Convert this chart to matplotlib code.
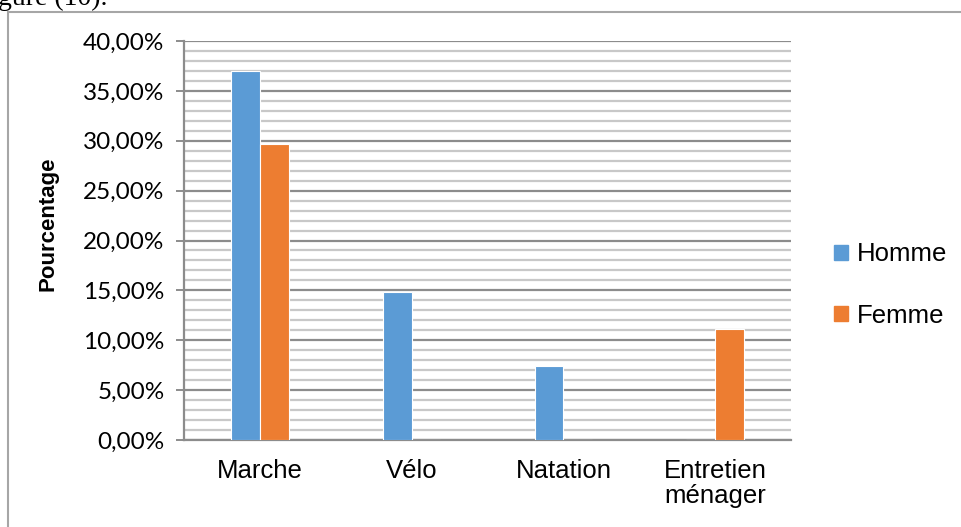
import matplotlib
matplotlib.use("Agg")
import matplotlib.pyplot as plt
import matplotlib.patches as mpatches
from matplotlib.ticker import MultipleLocator, FuncFormatter
import numpy as np

# activity shares by sex (percent)
categories = ["Marche", "Vélo", "Natation", "Entretien\nménager"]
homme = [37.04, 14.81, 7.41, 0.0]
femme = [29.63, 0.0, 0.0, 11.11]
series_names = ["Homme", "Femme"]

BLUE = "#5B9BD5"
ORANGE = "#ED7D31"

W, H = 961, 527
fig = plt.figure(figsize=(W / 100, H / 100), dpi=100)

# outer chart frame (runs off the right and bottom edges)
fig.patches.append(mpatches.Rectangle((8 / W, -0.1), 2.0, 1 - 12 / H + 0.1,
                                      transform=fig.transFigure, fill=False,
                                      edgecolor="#A6A6A6", linewidth=1.5))

# caption fragment cut off at the top of the page
fig.text(-2 / W, 1 - 5 / H, "gure (10).", family="Liberation Serif",
         fontsize=20, ha="left", va="baseline", color="black")

ax = fig.add_axes([184 / W, (H - 440) / H, (791 - 184) / W, (440 - 41) / H])

x = np.arange(len(categories))
bw = 0.19
ax.bar(x - bw / 2, homme, bw, color=BLUE, edgecolor="white", linewidth=0.8,
       label=series_names[0], zorder=3)
ax.bar(x + bw / 2, femme, bw, color=ORANGE, edgecolor="white", linewidth=0.8,
       label=series_names[1], zorder=3)

ax.set_xlim(-0.5, len(categories) - 0.5)
ax.set_ylim(0, 40)
ax.yaxis.set_major_locator(MultipleLocator(5))
ax.yaxis.set_minor_locator(MultipleLocator(1))
ax.yaxis.set_major_formatter(FuncFormatter(lambda v, p: f"{v:.2f}%".replace(".", ",")))

ax.grid(which="minor", axis="y", color="#C8C8C8", linewidth=1.6, zorder=0)
ax.grid(which="major", axis="y", color="#8C8C8C", linewidth=1.6, zorder=1)

for side in ["top", "right"]:
    ax.spines[side].set_visible(False)
for side in ["left", "bottom"]:
    ax.spines[side].set_color("#8C8C8C")
    ax.spines[side].set_linewidth(1.6)

ax.tick_params(axis="y", which="major", length=6, width=1.4, color="#8C8C8C",
               pad=8, labelsize=17.5)
ax.tick_params(axis="y", which="minor", length=0)
ax.tick_params(axis="x", length=0, pad=14, labelsize=18.5)
for lab in ax.get_yticklabels():
    lab.set_family("Lato")
ax.set_xticks(x)
ax.set_xticklabels(categories, family="Liberation Sans", linespacing=1.05)

ax.set_ylabel("Pourcentage", family="Liberation Sans", fontweight="bold",
              fontsize=16)
ax.yaxis.set_label_coords((58 - 184) / 607, (440 - 224) / 399)

handles = [mpatches.Patch(color=BLUE), mpatches.Patch(color=ORANGE)]
leg = fig.legend(handles, series_names, loc="center left",
                 bbox_to_anchor=(811 / W, 1 - 285 / H), frameon=False,
                 prop={"family": "Liberation Sans", "size": 18.5},
                 handlelength=0.55, handleheight=0.55, handletextpad=0.35,
                 labelspacing=1.45)

fig.savefig("out.png", dpi=100)
